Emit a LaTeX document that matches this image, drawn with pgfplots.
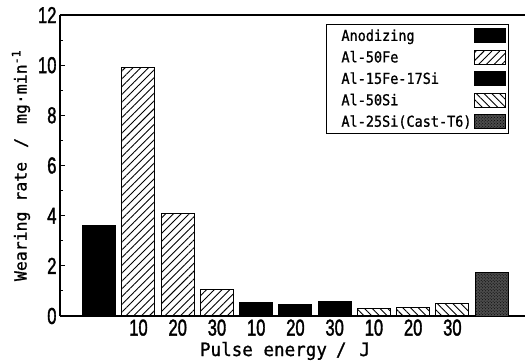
\documentclass[border=0pt]{standalone}
\usepackage{fontspec}
\usepackage{pgfplots}
\pgfplotsset{compat=1.18}
\usetikzlibrary{patterns,patterns.meta}
\setmainfont{DejaVu Sans Mono}[FakeBold=1]
\newfontfamily\mytickfont{Liberation Sans}[FakeStretch=0.72,FakeBold=1.5]
\newfontfamily\labfont{DejaVu Sans Mono}[FakeStretch=0.95,FakeBold=1]
\newfontfamily\legfont{DejaVu Sans Mono}[FakeStretch=0.9,FakeBold=1]
\pgfplotsset{
  mybar/.style={ybar, bar width=0.84, bar shift=0pt, draw=black, line width=1bp,
    legend image code/.code={\draw[##1] (0bp,-7bp) rectangle (31bp,7bp);}},
}
\begin{document}
\begin{tikzpicture}
\begin{axis}[
  scale only axis, width=465bp, height=301bp,
  xmin=-1, xmax=10.85, ymin=0, ymax=12,
  axis x line=box, axis y line*=left,
  axis line style={line width=1.4bp},
  ytick={0,2,...,12}, minor y tick num=1,
  tick align=inside, major tick length=5bp, minor tick length=3bp,
  tick style={line width=1bp, black},
  xtick={1,...,9}, xticklabels={10,20,30,10,20,30,10,20,30},
  xtick style={draw=none},
  /pgf/number format/assume math mode=true,
  tick label style={font=\mytickfont\fontsize{23bp}{23bp}\selectfont},
  ylabel={Wearing rate\hspace{14bp}/\hspace{14bp}mg·min\textsuperscript{-1}},
  ylabel style={at={(axis description cs:-0.084,0.5)}, anchor=center, font=\fontsize{16.5bp}{16.5bp}\selectfont},
  xlabel={Pulse energy\hspace{9bp}/\hspace{13bp}J},
  xlabel style={at={(axis description cs:0.484,-0.116)}, anchor=center, font=\labfont\fontsize{18.5bp}{18.5bp}\selectfont},
  legend plot pos=right, legend cell align=left,
  legend style={draw=black, line width=1bp, at={(axis description cs:0.9656,0.970)}, anchor=north east,
    font=\legfont\fontsize{15bp}{17bp}\selectfont, inner xsep=3bp, inner ysep=3bp, row sep=4.5bp},
]
\addplot[mybar, fill=black] coordinates {(0,3.6)};
\addlegendentry{\hspace*{10bp}Anodizing}
\addplot[mybar, pattern={Lines[angle=45,distance=5.5bp,line width=0.9bp]}] coordinates {(1,9.92) (2,4.1) (3,1.04)};
\addlegendentry{\hspace*{10bp}Al-50Fe}
\addplot[mybar, fill=black] coordinates {(4,0.55) (5,0.46) (6,0.57)};
\addlegendentry{\hspace*{10bp}Al-15Fe-17Si}
\addplot[mybar, pattern={Lines[angle=-45,distance=5.5bp,line width=0.9bp]}] coordinates {(7,0.3) (8,0.33) (9,0.48)};
\addlegendentry{\hspace*{10bp}Al-50Si}
\addplot[mybar, fill=black!70, postaction={pattern=crosshatch dots}] coordinates {(10,1.72)};
\addlegendentry{\hspace*{10bp}Al-25Si(Cast-T6)}
\end{axis}
\pgfresetboundingbox
\path[use as bounding box] ([shift={(-60bp,-48bp)}]current axis.south west) rectangle ([shift={(1bp,15bp)}]current axis.north east);
\end{tikzpicture}
\end{document}
